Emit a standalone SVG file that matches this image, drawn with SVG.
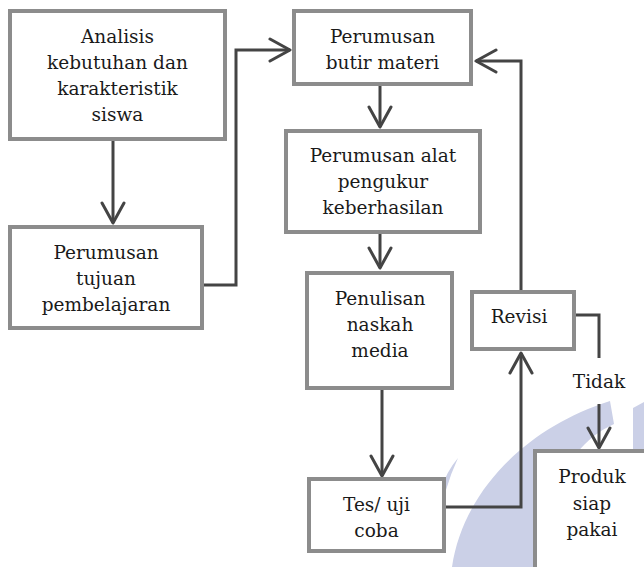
<svg xmlns="http://www.w3.org/2000/svg" width="644" height="567" viewBox="0 0 644 567">
<style>
.box{fill:#fff;stroke:#8c8c8c;stroke-width:4}
.lbl{font-family:"DejaVu Serif","Liberation Serif",serif;font-size:18.5px;fill:#1a1a1a;text-anchor:middle}
.con{fill:none;stroke:#444;stroke-width:3;stroke-linejoin:miter}
.wm{fill:#cbd0e7}
</style>
<defs>
<marker id="arr" viewBox="0 0 24 26" refX="22" refY="13" markerWidth="24" markerHeight="26" markerUnits="userSpaceOnUse" orient="auto">
<path d="M2,2 L22,13 L2,24" fill="none" stroke="#444" stroke-width="3" stroke-linecap="round" stroke-linejoin="round"/>
</marker>
</defs>
<rect width="644" height="567" fill="#fff"/>
<g id="watermark">
<path class="wm" d="M452,567 C463,492 525,428 610,401 L614,424 C575,442 550,480 540,567 Z"/>
<path class="wm" d="M458,458 Q446,472 441,490 L446,490 Q451,473 458,458 Z"/>
<path class="wm" d="M633,408 L644,402 L648,567 L633,567 Z"/>
</g>
<g id="connectors">
<path class="con" d="M113,141 L113,223" marker-end="url(#arr)"/>
<path class="con" d="M204,285 L236,285 L236,50 L290,50" marker-end="url(#arr)"/>
<path class="con" d="M380,86 L380,127" marker-end="url(#arr)"/>
<path class="con" d="M380,234 L380,268" marker-end="url(#arr)"/>
<path class="con" d="M382,390 L382,476" marker-end="url(#arr)"/>
<path class="con" d="M446,507 L521,507 L521,353" marker-end="url(#arr)"/>
<path class="con" d="M521,292 L521,61 L476,61" marker-end="url(#arr)"/>
<path class="con" d="M576,315 L599,315 L599,358"/>
<path class="con" d="M599,404 L599,448" marker-end="url(#arr)"/>
<text class="lbl" x="599" y="388">Tidak</text>
</g>
<g id="analisis">
<rect class="box" x="10" y="11" width="215" height="128"/>
<text class="lbl" x="117.5" y="43">Analisis</text>
<text class="lbl" x="117.5" y="69">kebutuhan dan</text>
<text class="lbl" x="117.5" y="95">karakteristik</text>
<text class="lbl" x="117.5" y="121">siswa</text>
</g>
<g id="tujuan">
<rect class="box" x="10" y="227" width="192" height="101"/>
<text class="lbl" x="106" y="259">Perumusan</text>
<text class="lbl" x="106" y="285">tujuan</text>
<text class="lbl" x="106" y="311">pembelajaran</text>
</g>
<g id="butir">
<rect class="box" x="294" y="11" width="177" height="73"/>
<text class="lbl" x="382.5" y="43">Perumusan</text>
<text class="lbl" x="382.5" y="69">butir materi</text>
</g>
<g id="alat">
<rect class="box" x="286" y="131" width="194" height="101"/>
<text class="lbl" x="383" y="162">Perumusan alat</text>
<text class="lbl" x="383" y="188">pengukur</text>
<text class="lbl" x="383" y="214">keberhasilan</text>
</g>
<g id="naskah">
<rect class="box" x="307" y="273" width="145" height="115"/>
<text class="lbl" x="380" y="305">Penulisan</text>
<text class="lbl" x="380" y="331">naskah</text>
<text class="lbl" x="380" y="357">media</text>
</g>
<g id="tes">
<rect class="box" x="309" y="479" width="135" height="72"/>
<text class="lbl" x="376.5" y="511">Tes/ uji</text>
<text class="lbl" x="376.5" y="537">coba</text>
</g>
<g id="revisi">
<rect class="box" x="472" y="292" width="102" height="57"/>
<text class="lbl" x="519" y="323">Revisi</text>
</g>
<g id="produk">
<rect class="box" x="535" y="451" width="120" height="130"/>
<text class="lbl" x="592" y="483">Produk</text>
<text class="lbl" x="592" y="510">siap</text>
<text class="lbl" x="592" y="536">pakai</text>
</g>
</svg>
